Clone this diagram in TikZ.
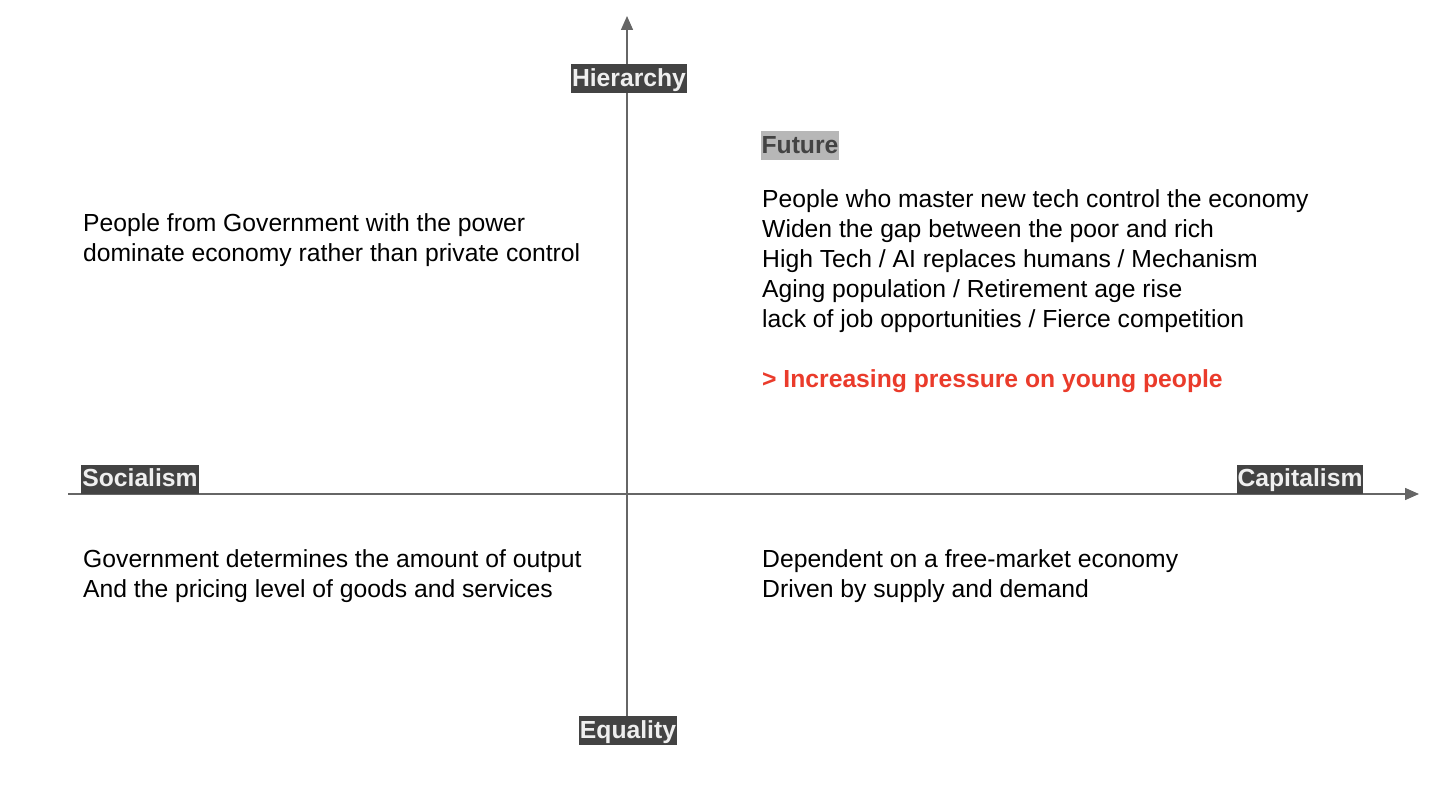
\documentclass[tikz,border=0pt]{standalone}
\usepackage{fontspec}
\setmainfont{Liberation Sans}
\usepackage{xcolor}
\usetikzlibrary{positioning,arrows.meta}
\definecolor{axisgray}{HTML}{666666}
\definecolor{tagdark}{HTML}{434343}
\definecolor{taglight}{HTML}{EFEFEF}
\definecolor{tagmid}{HTML}{B7B7B7}
\definecolor{pressred}{HTML}{EA3B2B}

\begin{document}
\begin{tikzpicture}[
  x=1pt, y=1pt,
  font=\fontsize{24.7}{30}\selectfont,
  axis/.style={draw=axisgray, line width=1.4pt, -{Triangle[length=14pt, width=12pt]}},
  tag/.style={fill=tagdark, text=taglight, font=\fontsize{24.7}{26}\selectfont\bfseries,
    inner xsep=1pt, inner ysep=2.75pt, text height=19.5pt, text depth=4pt},
  subtag/.style={tag, fill=tagmid, text=tagdark},
  txt/.style={align=left, anchor=base west, inner sep=0pt, text=black}
]
\useasboundingbox (0,0) rectangle (1440,-810);

% axes
\coordinate (xl) at (68,-494);
\coordinate (xr) at (1419,-494);
\coordinate (yb) at (627,-718);
\coordinate (yt) at (627,-16);
\draw[axis] (xl) -- (xr);
\draw[axis] (yb) -- (yt);

% axis labels
\node[tag] (hier) at (629,-78.5) {Hierarchy};
\node[tag] (equ) at (628,-730.5) {Equality};
\node[tag] (soc) at (140,-479) {Socialism};
\node[tag] (cap) at (1300,-479) {Capitalism};

% quadrants (base = last line)
\node[subtag] (fut) at (800,-146) {Future};
\node[txt] (future) at (762,-327) {People who master new tech control the economy\\
  Widen the gap between the poor and rich\\
  High Tech / AI replaces humans / Mechanism\\
  Aging population / Retirement age rise\\
  lack of job opportunities / Fierce competition};
\node[txt, text=pressred, font=\fontsize{24.7}{30}\selectfont\bfseries] (press) at (762,-387) {> Increasing pressure on young people};
\node[txt] (govpow) at (83,-262) {People from Government with the power\\
  dominate economy rather than private control};
\node[txt] (govout) at (83,-597) {Government determines the amount of output\\
  And the pricing level of goods and services};
\node[txt] (market) at (762,-597) {Dependent on a free-market economy\\
  Driven by supply and demand};
\end{tikzpicture}
\end{document}
